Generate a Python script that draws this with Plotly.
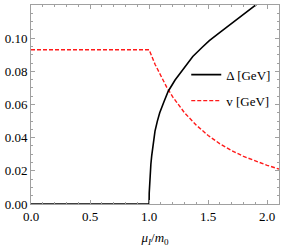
import plotly.graph_objects as go

# Delta [GeV] vs mu_I/m0
delta_x = [0.0, 1.0, 1.0, 1.001, 1.003, 1.008, 1.015, 1.022, 1.035, 1.05, 1.07, 1.09, 1.125, 1.162, 1.22, 1.29, 1.37, 1.45, 1.51, 1.6, 1.65, 1.77, 1.85, 1.912]
delta_y = [0.0, 0.0, 0.0, 0.0065, 0.011, 0.018, 0.024, 0.029, 0.037, 0.044, 0.050, 0.055, 0.0615, 0.068, 0.0748, 0.0815, 0.089, 0.0945, 0.0985, 0.1035, 0.1062, 0.1128, 0.1170, 0.1205]

# v [GeV] vs mu_I/m0
v_x = [0.0, 1.0, 1.05, 1.1, 1.15, 1.2, 1.3, 1.4, 1.5, 1.6, 1.7, 1.8, 1.9, 2.0, 2.1]
v_y = [0.093, 0.093, 0.0843, 0.077, 0.0703, 0.0646, 0.055, 0.0475, 0.0413, 0.0363, 0.0322, 0.0287, 0.0258, 0.0233, 0.0211]

x_ticks = [0.0, 0.5, 1.0, 1.5, 2.0]
x_ticklabels = ["0.0", "0.5", "1.0", "1.5", "2.0"]
y_ticks = [0.0, 0.02, 0.04, 0.06, 0.08, 0.10, 0.12]
y_ticklabels = ["0.00", "0.02", "0.04", "0.06", "0.08", "0.10", "0.12"]

FONT = "Liberation Serif, DejaVu Serif, serif"
AX = "#a0a0a0"

fig = go.Figure()
fig.add_trace(go.Scatter(x=v_x, y=v_y, mode="lines", name="v [GeV]",
                         line=dict(color="#ff1a1a", width=1.4, dash="4px,2px"),
                         legendgroup="b", legendrank=2, cliponaxis=False))
fig.add_trace(go.Scatter(x=delta_x, y=delta_y, mode="lines", name="Δ [GeV]",
                         line=dict(color="black", width=1.6),
                         legendgroup="a", legendrank=1, cliponaxis=False))

axis_common = dict(showgrid=False, zeroline=False, showline=True, linecolor=AX, linewidth=1,
                   mirror="ticks", ticks="inside", tickcolor=AX, ticklen=4, tickwidth=1,
                   automargin=False,
                   tickfont=dict(family=FONT, size=13, color="black"))

fig.update_xaxes(range=[0, 2.1], tickvals=x_ticks, ticktext=x_ticklabels,
                 minor=dict(dtick=0.1, tick0=0, ticks="inside", ticklen=2, tickcolor=AX),
                 title=dict(text="<i>μ</i><sub><i>I</i></sub>/<i>m</i><sub>0</sub>",
                            font=dict(family=FONT, size=13, color="black"), standoff=10),
                 **axis_common)
fig.update_yaxes(range=[0, 0.12], tickvals=y_ticks, ticktext=y_ticklabels,
                 minor=dict(dtick=0.005, tick0=0, ticks="inside", ticklen=2, tickcolor=AX),
                 **axis_common)

fig.update_layout(
    width=281, height=249,
    margin=dict(l=31, r=2, t=5, b=45, autoexpand=False),
    paper_bgcolor="white", plot_bgcolor="white",
    showlegend=True,
    legend=dict(x=0.626, y=0.725, xanchor="left", yanchor="top",
                font=dict(family=FONT, size=13, color="black"),
                bgcolor="rgba(0,0,0,0)", traceorder="grouped", tracegroupgap=6),
)

fig.write_html("out.html", config={"displayModeBar": False},
               post_script="document.body.style.margin='0';document.body.style.overflow='hidden';")
